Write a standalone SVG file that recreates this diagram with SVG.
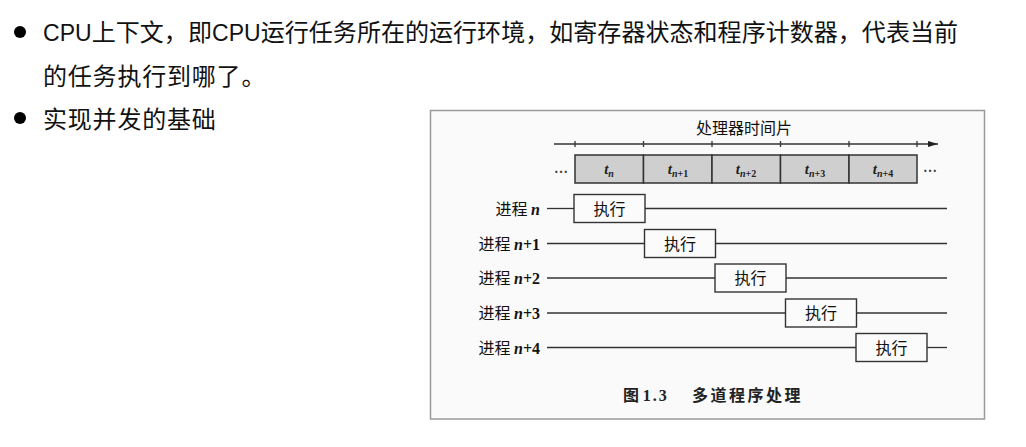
<svg xmlns="http://www.w3.org/2000/svg" width="1026" height="447" viewBox="0 0 1026 447">
  <defs>
    <style>
      .bul { font-family: "Liberation Sans", "Noto Sans CJK SC", sans-serif; font-size: 24px; fill: #111; }
      .lat { font-family: "Liberation Sans", sans-serif; font-size: 23px; }
      .cn { font-family: "Noto Sans CJK SC", sans-serif; font-size: 16px; fill: #111; }
      .it { font-family: "Liberation Serif", serif; font-style: italic; font-weight: bold; }
      .ser { font-family: "Liberation Serif", serif; font-weight: bold; }
      .slot { fill: #cfcfcf; stroke: #333; stroke-width: 1.5; }
      .exec { fill: #fbfbfb; stroke: #333; stroke-width: 1.4; }
      .ln { stroke: #333; stroke-width: 1.3; fill: none; }
      .tl { font-family: "Liberation Serif", serif; font-style: italic; font-weight: bold; font-size: 15px; fill: #222; }
      .sub { font-size: 10px; }
      .up { font-style: normal; }
    </style>
    <marker id="arr" viewBox="0 0 10 6" refX="10" refY="3" markerWidth="15" markerHeight="6" markerUnits="userSpaceOnUse" orient="auto">
      <path d="M0,0 L10,3 L0,6 Z" fill="#222"/>
    </marker>
  </defs>
  <rect x="0" y="0" width="1026" height="447" fill="#ffffff"/>

  <!-- bullet text -->
  <g id="bullets">
    <circle cx="20" cy="32" r="6" fill="#000"/>
    <text class="bul" x="43" y="41" textLength="915" lengthAdjust="spacing"><tspan class="lat">CPU</tspan>上下文，即<tspan class="lat">CPU</tspan>运行任务所在的运行环境，如寄存器状态和程序计数器，代表当前</text>
    <text class="bul" x="43" y="85" letter-spacing="0.8">的任务执行到哪了。</text>
    <circle cx="20" cy="118" r="6" fill="#000"/>
    <text class="bul" x="43" y="128" letter-spacing="0.8">实现并发的基础</text>
  </g>

  <!-- figure frame -->
  <g id="frame">
    <rect x="430.5" y="110.5" width="554" height="308.5" fill="#fafafa" stroke="#999" stroke-width="1.5"/>
  </g>

  <g id="title">
    <text class="cn" x="744" y="134" text-anchor="middle">处理器时间片</text>
  </g>

  <!-- time axis -->
  <g id="axis">
    <line class="ln" x1="554" y1="144" x2="938" y2="144" marker-end="url(#arr)"/>
    <line class="ln" x1="575" y1="141" x2="575" y2="147"/>
    <line class="ln" x1="643.5" y1="141" x2="643.5" y2="147"/>
    <line class="ln" x1="712" y1="141" x2="712" y2="147"/>
    <line class="ln" x1="780.5" y1="141" x2="780.5" y2="147"/>
    <line class="ln" x1="849" y1="141" x2="849" y2="147"/>
    <line class="ln" x1="917" y1="141" x2="917" y2="147"/>
  </g>

  <!-- time slices -->
  <g id="slices">
    <g id="slice-n">
      <rect class="slot" x="575" y="155" width="68.5" height="28"/>
      <text class="tl" x="609" y="174" text-anchor="middle">t<tspan class="sub" dy="3">n</tspan></text>
    </g>
    <g id="slice-n1">
      <rect class="slot" x="643.5" y="155" width="68.5" height="28"/>
      <text class="tl" x="678" y="174" text-anchor="middle">t<tspan class="sub" dy="3">n<tspan class="up">+1</tspan></tspan></text>
    </g>
    <g id="slice-n2">
      <rect class="slot" x="712" y="155" width="68.5" height="28"/>
      <text class="tl" x="746" y="174" text-anchor="middle">t<tspan class="sub" dy="3">n<tspan class="up">+2</tspan></tspan></text>
    </g>
    <g id="slice-n3">
      <rect class="slot" x="780.5" y="155" width="68.5" height="28"/>
      <text class="tl" x="815" y="174" text-anchor="middle">t<tspan class="sub" dy="3">n<tspan class="up">+3</tspan></tspan></text>
    </g>
    <g id="slice-n4">
      <rect class="slot" x="849" y="155" width="68" height="28"/>
      <text class="tl" x="883" y="174" text-anchor="middle">t<tspan class="sub" dy="3">n<tspan class="up">+4</tspan></tspan></text>
    </g>
    <text class="ser" x="561" y="173" font-size="14" fill="#444" text-anchor="middle">…</text>
    <text class="ser" x="930" y="172" font-size="14" fill="#444" text-anchor="middle">…</text>
  </g>

  <!-- connectors (process timelines) -->
  <g id="connectors">
    <line class="ln" x1="547" y1="208.5" x2="574" y2="208.5"/>
    <line class="ln" x1="645" y1="208.5" x2="947" y2="208.5"/>
    <line class="ln" x1="547" y1="243.5" x2="644.5" y2="243.5"/>
    <line class="ln" x1="715.5" y1="243.5" x2="947" y2="243.5"/>
    <line class="ln" x1="547" y1="278" x2="715" y2="278"/>
    <line class="ln" x1="786" y1="278" x2="947" y2="278"/>
    <line class="ln" x1="547" y1="313" x2="785.5" y2="313"/>
    <line class="ln" x1="856.5" y1="313" x2="947" y2="313"/>
    <line class="ln" x1="547" y1="347.5" x2="856" y2="347.5"/>
    <line class="ln" x1="927" y1="347.5" x2="947" y2="347.5"/>
  </g>

  <!-- process rows -->
  <g id="proc-n">
    <text class="cn" x="540" y="214.5" text-anchor="end">进程 <tspan class="it">n</tspan></text>
    <rect class="exec" x="574" y="194.5" width="71" height="28"/>
    <text class="cn" x="609.5" y="214.5" text-anchor="middle">执行</text>
  </g>
  <g id="proc-n1">
    <text class="cn" x="540" y="249.5" text-anchor="end">进程 <tspan class="it">n</tspan><tspan class="ser">+1</tspan></text>
    <rect class="exec" x="644.5" y="229.5" width="71" height="28"/>
    <text class="cn" x="680" y="249.5" text-anchor="middle">执行</text>
  </g>
  <g id="proc-n2">
    <text class="cn" x="540" y="284" text-anchor="end">进程 <tspan class="it">n</tspan><tspan class="ser">+2</tspan></text>
    <rect class="exec" x="715" y="264" width="71" height="28"/>
    <text class="cn" x="750.5" y="284" text-anchor="middle">执行</text>
  </g>
  <g id="proc-n3">
    <text class="cn" x="540" y="319" text-anchor="end">进程 <tspan class="it">n</tspan><tspan class="ser">+3</tspan></text>
    <rect class="exec" x="785.5" y="299" width="71" height="28"/>
    <text class="cn" x="821" y="319" text-anchor="middle">执行</text>
  </g>
  <g id="proc-n4">
    <text class="cn" x="540" y="353.5" text-anchor="end">进程 <tspan class="it">n</tspan><tspan class="ser">+4</tspan></text>
    <rect class="exec" x="856" y="333.5" width="71" height="28"/>
    <text class="cn" x="891.5" y="353.5" text-anchor="middle">执行</text>
  </g>

  <g id="caption">
    <text x="623" y="401" font-family="Noto Sans CJK SC, sans-serif" font-size="16" font-weight="bold" fill="#222">图 <tspan font-family="Liberation Serif, serif" letter-spacing="2">1.3</tspan><tspan x="692" letter-spacing="2.5">多道程序处理</tspan></text>
  </g>
</svg>
